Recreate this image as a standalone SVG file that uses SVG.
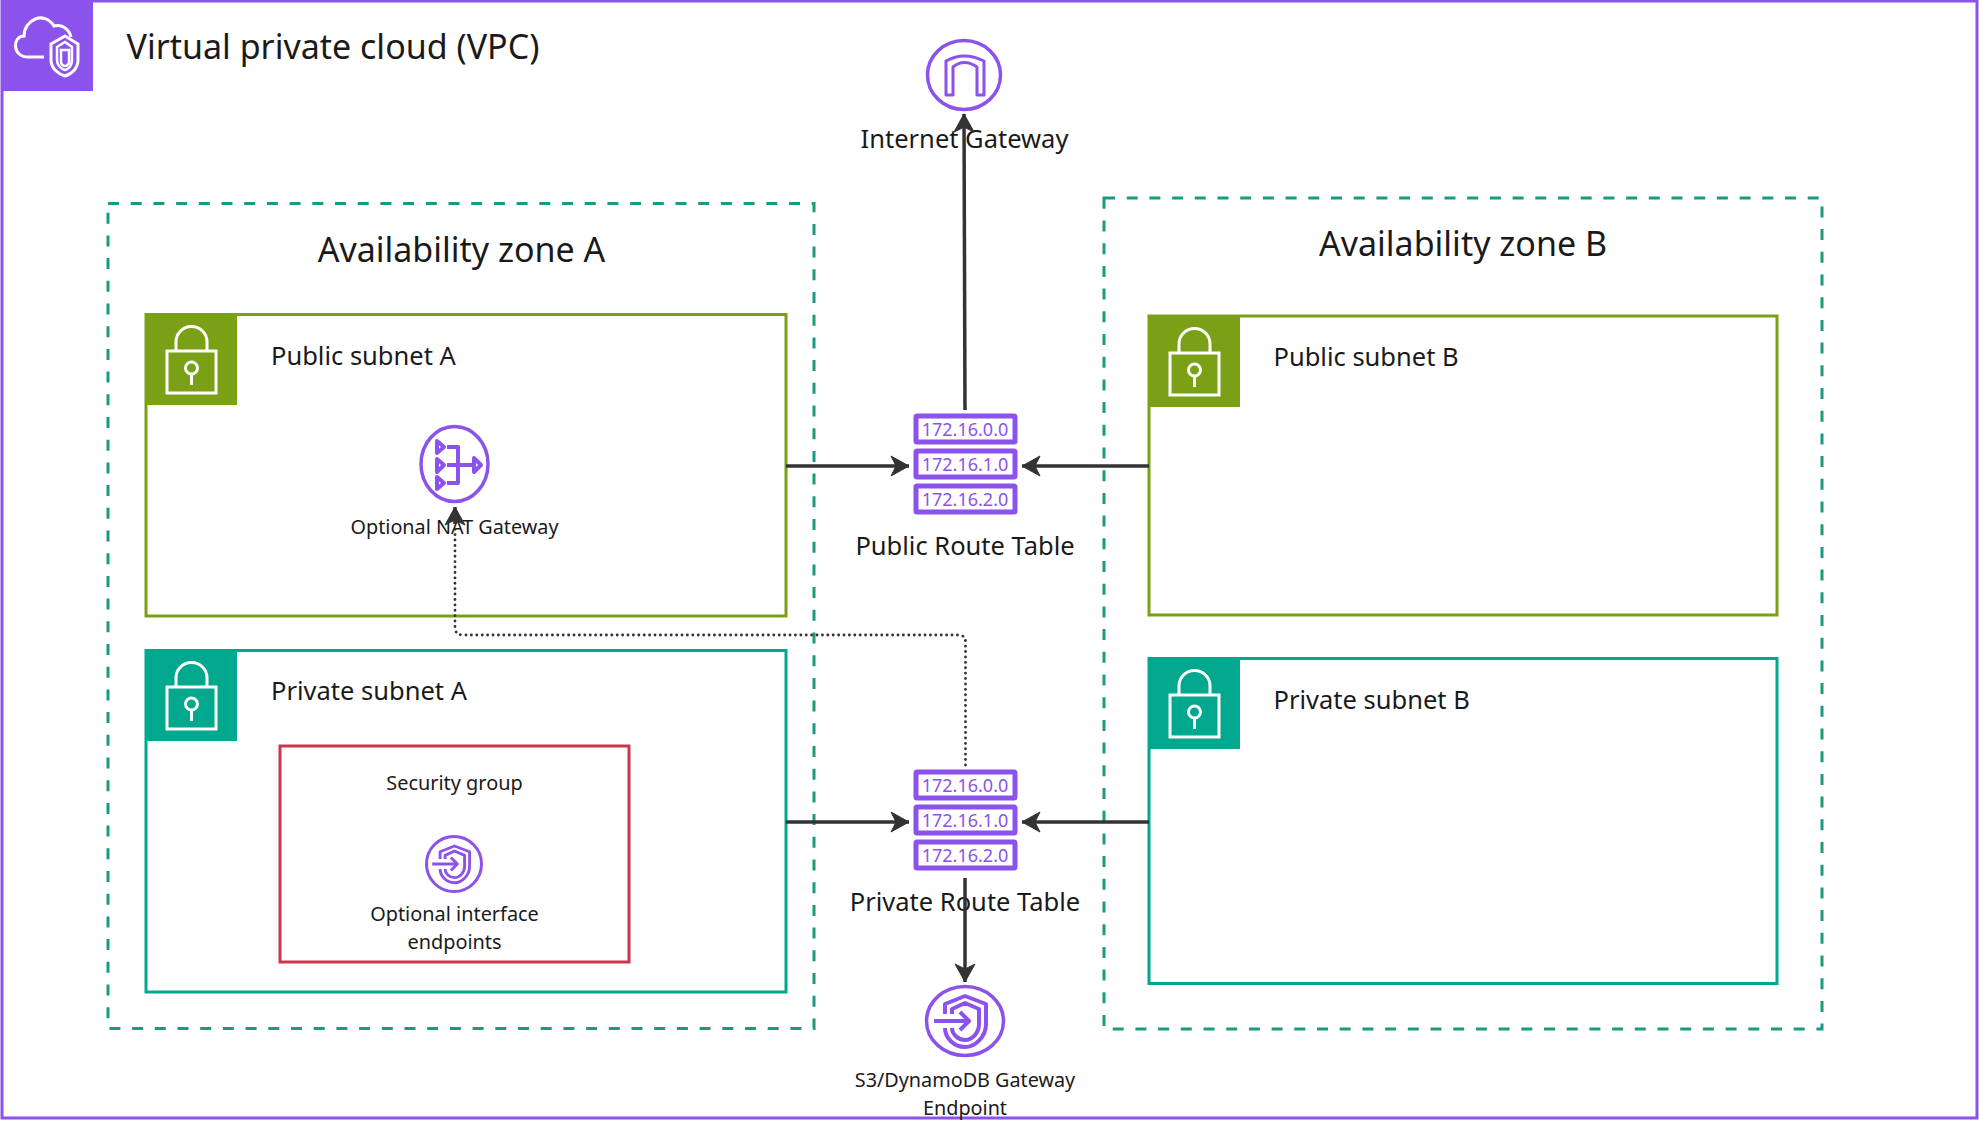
<svg xmlns="http://www.w3.org/2000/svg" width="1979" height="1123" viewBox="0 0 1979 1123">
<style>
text{font-family:"Noto Sans","Open Sans","Liberation Sans",sans-serif;fill:#1a1a1a;text-anchor:middle}
.l{text-anchor:start}
.box{fill:#fff;stroke-width:3}
.az{fill:none;stroke:#1a9a80;stroke-width:3;stroke-dasharray:11 11.700}
.w{fill:none;stroke:#fff;stroke-width:3}
.w2{fill:none;stroke:#fff;stroke-width:2.500}
.p{fill:none;stroke:#8c52ec;stroke-width:3.500}
.c{fill:none;stroke:#333;stroke-width:3.500}
.d{fill:none;stroke:#333;stroke-width:2.800;stroke-dasharray:0.100 5.300;stroke-linecap:round}
.t{font-size:18px;fill:#8c52ec}
.rb{fill:#fff;stroke:#8c52ec;stroke-width:5}
.h{fill:none;stroke:#8c52ec;stroke-width:3;stroke-linejoin:round}
.s{fill:none;stroke:#8c52ec;stroke-width:4;stroke-linejoin:round}
</style>
<defs>
<marker id="a" viewBox="0 0 20 24" refX="19" refY="12" markerUnits="userSpaceOnUse" markerWidth="20" markerHeight="24" orient="auto"><path d="M1 2 L19 12 L1 22 L6 12Z" fill="#333" stroke="#333" stroke-linejoin="round"/></marker>
<g id="lock"><path class="w" d="M31 38V29a15.500 15.500 0 0 1 31 0V38M22 38H71V80H22ZM46.500 72V61"/><circle class="w" cx="46.500" cy="55" r="6"/></g>
<g id="routes">
<rect class="rb" x="916" y="416" width="99" height="26" rx="1"/><rect class="rb" x="916" y="451" width="99" height="26" rx="1"/><rect class="rb" x="916" y="486" width="99" height="26" rx="1"/>
<text class="t" x="965" y="436">172.16.0.0</text><text class="t" x="965" y="471">172.16.1.0</text><text class="t" x="965" y="506">172.16.2.0</text>
</g>
<g id="shield"><path class="s" d="M-20 -7V-17L0 -25L21 -17V3C21 16 10 26 0 26C-11 26 -20 17 -20 7"/><path class="s" d="M-13 -7V-12L0 -18L14 -12V3C14 12 7 19 0 19C-7 19 -13 13 -13 7"/><path class="s" d="M-31 0H4M-5 -9L4 0L-5 9"/></g>
</defs>
<rect width="1979" height="1123" fill="#fff"/>
<g id="vpc">
<rect x="2" y="1" width="1975" height="1117" fill="#fff" stroke="#8c52ec" stroke-width="3"/>
<rect x="2" y="0" width="91" height="91" fill="#8c52ec"/>
<path class="w" d="M44 57H28C12 57 12 36 24 36C24 20 44 10 54 26C62 24 69 29 71 37"/>
<path class="w" d="M51 44L65 36L78 44V60C78 68 72 74 65 76C58 74 51 68 51 60Z"/>
<path class="w2" d="M57 47L65 42L72 47V60C72 65 69 69 65 70C61 69 57 65 57 60ZM61 50H69V62C69 64 67 66 65 66C63 66 61 64 61 62Z"/>
<text class="l" x="126.500" y="59" font-size="34">Virtual private cloud (VPC)</text>
</g>
<g id="zone-a"><rect class="az" x="108" y="203.500" width="706" height="825"/><text x="461.500" y="262" font-size="34">Availability zone A</text></g>
<g id="zone-b"><rect class="az" x="1104" y="198" width="718" height="831"/><text x="1463" y="256" font-size="34">Availability zone B</text></g>
<g id="public-a"><rect class="box" x="146" y="314.500" width="640" height="301.500" stroke="#7aa116"/><rect x="145" y="313" width="92" height="92" fill="#7aa116"/><use href="#lock" x="145" y="313"/><text class="l" x="271" y="365" font-size="25.500">Public subnet A</text></g>
<g id="private-a"><rect class="box" x="146" y="650.500" width="640" height="341.500" stroke="#01a88d"/><rect x="145" y="649" width="92" height="92" fill="#01a88d"/><use href="#lock" x="145" y="649"/><text class="l" x="271" y="700" font-size="25.500">Private subnet A</text></g>
<g id="public-b"><rect class="box" x="1149" y="316" width="628" height="299" stroke="#7aa116"/><rect x="1148" y="315" width="92" height="92" fill="#7aa116"/><use href="#lock" x="1148" y="315"/><text class="l" x="1273.500" y="366" font-size="25.500">Public subnet B</text></g>
<g id="private-b"><rect class="box" x="1149" y="658.500" width="628" height="325" stroke="#01a88d"/><rect x="1148" y="657" width="92" height="92" fill="#01a88d"/><use href="#lock" x="1148" y="657"/><text class="l" x="1273.500" y="709" font-size="25.500">Private subnet B</text></g>
<g id="security-group"><rect class="box" x="280" y="746" width="349" height="216" stroke="#c7374f"/><text x="454.500" y="790" font-size="19.900">Security group</text></g>
<g id="internet-gateway"><ellipse class="p" cx="964" cy="75" rx="36.500" ry="34.500"/><path class="h" d="M946 95V61Q964 51 984 61V95H977V67Q964 58 953 67V95Z"/><text x="964.500" y="147.500" font-size="25.500">Internet Gateway</text></g>
<g id="nat-gateway"><ellipse class="p" cx="454.500" cy="464" rx="33.500" ry="37.500"/>
<path class="s" d="M437 441L444 447L437 453ZM437 459L444 465L437 472ZM437 477L444 483L437 489ZM474 458L481 465L474 472Z"/><path class="s" d="M447 447H458V483H447M447 465H474"/>
<text x="454.500" y="534" font-size="19.800">Optional NAT Gateway</text></g>
<g id="interface-endpoint"><circle class="p" cx="454" cy="864" r="27.500" style="stroke-width:3"/><use href="#shield" transform="translate(454.500 864) scale(.72)"/><text x="454.500" y="921" font-size="19.900">Optional interface</text><text x="454.500" y="949" font-size="19.900">endpoints</text></g>
<g id="public-route-table"><use href="#routes"/><text x="965" y="554.500" font-size="25.500">Public Route Table</text></g>
<g id="private-route-table"><use href="#routes" y="356"/><text x="965" y="910.500" font-size="25.500">Private Route Table</text></g>
<g id="s3-endpoint"><ellipse class="p" cx="965" cy="1021" rx="38.500" ry="34.500"/><use href="#shield" transform="translate(965 1021)"/><text x="965" y="1087" font-size="19.800">S3/DynamoDB Gateway</text><text x="965" y="1115" font-size="19.800">Endpoint</text></g>
<g id="connectors">
<path class="c" d="M965 410L964 114" marker-end="url(#a)"/>
<path class="c" d="M786 466H909" marker-end="url(#a)"/>
<path class="c" d="M1149 466H1022" marker-end="url(#a)"/>
<path class="c" d="M786 822H909" marker-end="url(#a)"/>
<path class="c" d="M1149 822H1022" marker-end="url(#a)"/>
<path class="c" d="M965 878V982" marker-end="url(#a)"/>
<path class="d" d="M965.500 765V642Q965.500 635 958 635H463Q455 635 455 627V525"/>
<path class="c" d="M455 524V507" marker-end="url(#a)"/>
</g>
</svg>
